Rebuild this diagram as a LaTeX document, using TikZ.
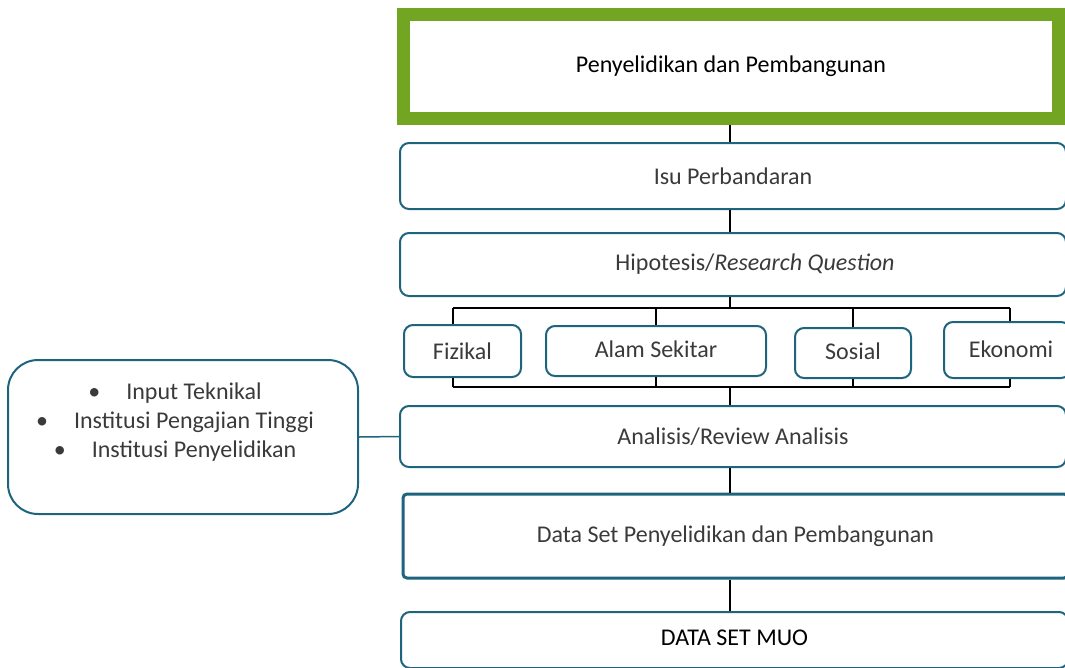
\documentclass[tikz,border=0pt]{standalone}
\usepackage{fontspec}
\setmainfont{Carlito}
\usepackage{tikz}
\definecolor{biru}{HTML}{1F647D}
\definecolor{hijau}{HTML}{72A521}
\definecolor{kelabu}{HTML}{3A3A3A}

\begin{document}
\begin{tikzpicture}[x=1pt, y=-1pt,
	kotak/.style={draw=biru, line width=2pt, rounded corners=9pt, text=kelabu, inner sep=0pt, font=\fontsize{24}{29}\selectfont},
	garis/.style={draw=black, line width=2pt}]
	\useasboundingbox (0,0) rectangle (1065,667);
	\clip (0,0) rectangle (1065,667);
	\coordinate (tulang) at (730,0);
	\node[kotak, draw=hijau, line width=13pt, rounded corners=0pt, text=black, minimum width=655pt, minimum height=104pt] (rnd) at (731,66.5) {Penyelidikan dan Pembangunan};
	\node[kotak, minimum width=666pt, minimum height=66pt] (isu) at (733,176) {Isu Perbandaran};
	\node[kotak, minimum width=666pt, minimum height=63pt] (hipotesis) at (733,264.5) {\hspace*{44pt}Hipotesis/\textit{Research Question}};
	\node[kotak, minimum width=117pt, minimum height=52pt] (fizikal) at (462.5,351) {Fizikal};
	\node[kotak, minimum width=220pt, minimum height=50pt] (alam) at (656,351) {\raisebox{3pt}{Alam Sekitar}};
	\node[kotak, minimum width=116pt, minimum height=50pt] (sosial) at (853,353) {\raisebox{3pt}{Sosial}};
	\node[kotak, minimum width=126pt, minimum height=56pt] (ekonomi) at (1007,350) {\hspace*{8pt}\raisebox{2pt}{Ekonomi}};
	\node[kotak, minimum width=666pt, minimum height=61pt] (analisis) at (733,436.5) {Analisis/Review Analisis};
	\node[kotak, line width=3pt, rounded corners=4pt, minimum width=665pt, minimum height=84pt] (dataset) at (735.5,536) {Data Set Penyelidikan dan Pembangunan};
	\node[kotak, text=black, minimum width=667pt, minimum height=56pt] (muo) at (734.5,640) {\raisebox{5pt}{DATA SET MUO}};
	\node[kotak, rounded corners=30pt, minimum width=350pt, minimum height=154pt] (sumber) at (183,437) {};
	\node[text=kelabu, align=center, font=\fontsize{24}{29}\selectfont] (sumberteks) at (175,422) {\textbullet\hspace{26pt}Input Teknikal\\ \textbullet\hspace{26pt}Institusi Pengajian Tinggi\\ \textbullet\hspace{26pt}Institusi Penyelidikan};
	\coordinate (kiri) at (453,308);
	\coordinate (kanan) at (1010,308);
	\coordinate (kiri2) at (453,387);
	\coordinate (kanan2) at (1010,387);
	\draw[garis] (rnd.south -| tulang) -- (isu.north -| tulang);
	\draw[garis] (isu.south -| tulang) -- (hipotesis.north -| tulang);
	\draw[garis] (hipotesis.south -| tulang) -- (kiri -| tulang);
	\draw[garis] (kiri) -- (kanan);
	\draw[garis] (kiri) -- (kiri |- fizikal.north);
	\draw[garis] (alam.north |- kiri) -- (alam.north);
	\draw[garis] (sosial.north |- kiri) -- (sosial.north);
	\draw[garis] (kanan) -- (kanan |- ekonomi.north);
	\draw[garis] (kiri2) -- (kanan2);
	\draw[garis] (kiri2) -- (kiri2 |- fizikal.south);
	\draw[garis] (alam.south |- kiri2) -- (alam.south);
	\draw[garis] (sosial.south |- kiri2) -- (sosial.south);
	\draw[garis] (kanan2) -- (kanan2 |- ekonomi.south);
	\draw[garis] (kiri2 -| tulang) -- (analisis.north -| tulang);
	\draw[garis] (analisis.south -| tulang) -- (dataset.north -| tulang);
	\draw[garis] (dataset.south -| tulang) -- (muo.north -| tulang);
	\draw[biru, line width=1.5pt] (sumber.east) -- (analisis.west);
\end{tikzpicture}
\end{document}
